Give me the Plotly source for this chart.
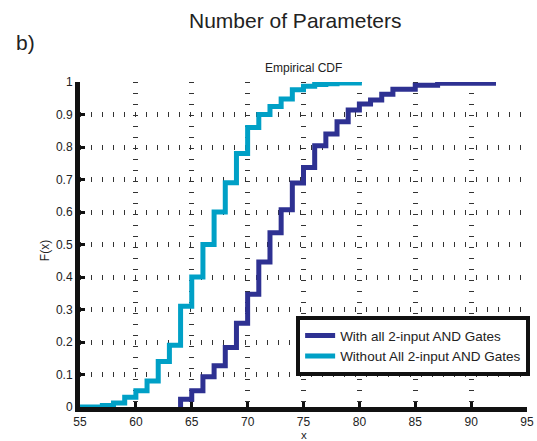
import plotly.graph_objects as go

# Data (empirical CDF step values)
with_x = [64, 65, 66, 67, 68, 69, 70, 71, 72, 73, 74, 75, 76, 77, 78, 79, 80, 81, 82, 83, 85, 87, 92]
with_F = [0.024, 0.05, 0.093, 0.127, 0.183, 0.258, 0.347, 0.446, 0.536, 0.607, 0.689, 0.737,
          0.804, 0.84, 0.878, 0.914, 0.932, 0.945, 0.962, 0.978, 0.99, 0.996, 1.0]

without_x = [55, 57, 58, 59, 60, 61, 62, 63, 64, 65, 66, 67, 68, 69, 70, 71, 72, 73, 74, 75, 76, 77, 78, 80]
without_F = [0.0, 0.005, 0.012, 0.03, 0.05, 0.08, 0.14, 0.19, 0.31, 0.40, 0.50, 0.60, 0.69, 0.78,
             0.86, 0.90, 0.925, 0.948, 0.976, 0.987, 0.992, 0.995, 0.997, 1.0]

x_ticks = [55, 60, 65, 70, 75, 80, 85, 90, 95]
y_ticks = [0, 0.1, 0.2, 0.3, 0.4, 0.5, 0.6, 0.7, 0.8, 0.9, 1]
y_ticktext = ["0", "0.1", "0.2", "0.3", "0.4", "0.5", "0.6", "0.7", "0.8", "0.9", "1"]

names = ["With all 2-input AND Gates", "Without All 2-input AND Gates"]
colors = ["#2E3192", "#00A0C6"]

fig = go.Figure()
for xs, Fs, name, col in [(with_x, with_F, names[0], colors[0]),
                          (without_x, without_F, names[1], colors[1])]:
    fig.add_trace(go.Scatter(
        x=[xs[0]] + xs, y=[0] + Fs, mode="lines", name=name,
        line=dict(color=col, width=5, shape="hv"),
    ))

font = "Liberation Sans, Arial, sans-serif"
grid = dict(showgrid=True, gridcolor="#333", gridwidth=5, griddash="1px,10px")

fig.update_layout(
    width=537, height=441,
    margin=dict(l=80, r=10, t=82, b=34, autoexpand=False),
    paper_bgcolor="white", plot_bgcolor="white",
    font=dict(family=font, size=12, color="#222"),
    showlegend=True,
    legend=dict(x=1.007, xanchor="right", y=0.095, yanchor="bottom",
                bgcolor="white", bordercolor="#111", borderwidth=4,
                font=dict(size=13.5, family=font), tracegroupgap=0),
    xaxis=dict(range=[55, 95], tickvals=x_ticks, showline=True, linewidth=5,
               linecolor="#111", ticks="inside", ticklen=5, tickwidth=3, tickcolor="#111",
               zeroline=False, automargin=False, **grid),
    yaxis=dict(range=[0, 1], tickvals=y_ticks, ticktext=y_ticktext, showline=True,
               linewidth=5, linecolor="#111", ticks="inside", ticklen=5, tickwidth=3,
               tickcolor="#111", zeroline=False, automargin=False, **grid),
    annotations=[
        dict(text="x", x=0.5, y=-0.066, xref="paper", yref="paper",
             xanchor="center", yanchor="top", borderpad=0,
             showarrow=False, font=dict(size=11.5, family=font)),
        dict(text="F(x)", x=-0.078, y=0.48, xref="paper", yref="paper", textangle=-90,
             xanchor="center", yanchor="middle",
             showarrow=False, font=dict(size=12, family=font)),
        dict(text="Empirical CDF", x=0.5, y=1.043, xref="paper", yref="paper",
             xanchor="center", yanchor="middle",
             showarrow=False, font=dict(size=12, family=font)),
        dict(text="Number of Parameters", x=0.482, y=1.19, xref="paper", yref="paper",
             xanchor="center", yanchor="middle",
             showarrow=False, font=dict(size=21, family=font)),
        dict(text="b)", x=-0.121, y=1.12, xref="paper", yref="paper",
             xanchor="center", yanchor="middle",
             showarrow=False, font=dict(size=21, family=font)),
    ],
)

fig.write_html("out.html", config={"displayModeBar": False},
               post_script="document.body.style.margin='0';")
